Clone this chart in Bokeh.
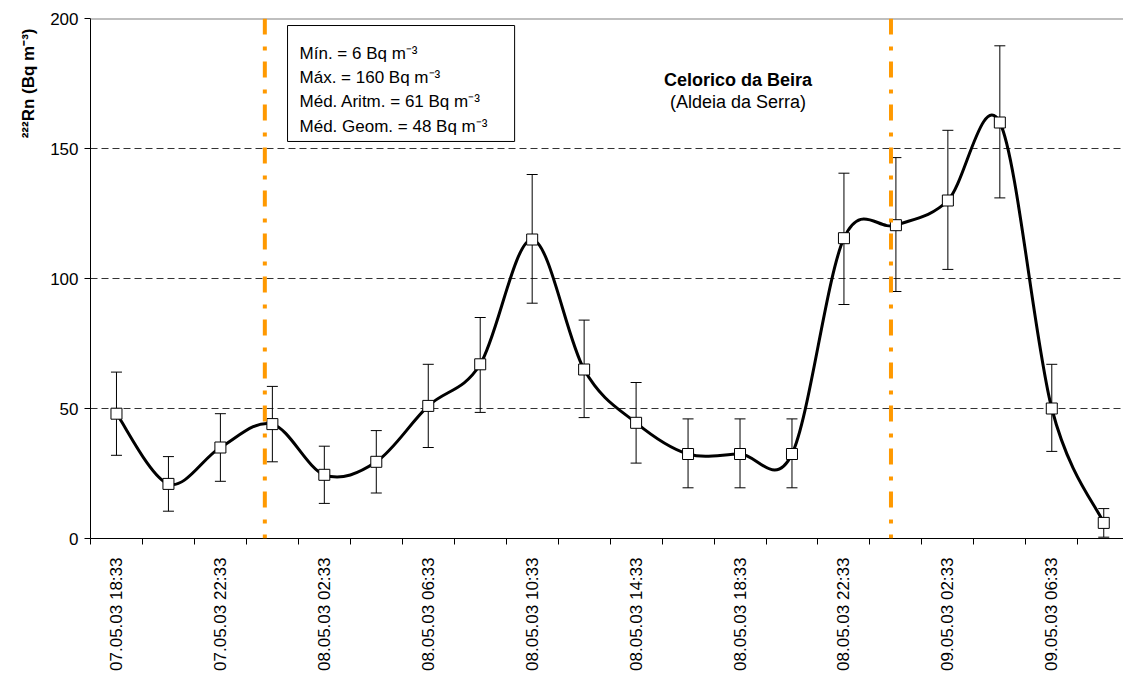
import math
from bokeh.plotting import figure
from bokeh.models import (Range1d, FixedTicker, ColumnDataSource, Whisker, TeeHead,
                          Label, BoxAnnotation, Span, Title)
from bokeh.embed import file_html
from bokeh.resources import INLINE

# ---------------- data ----------------
times = ["07.05.03 18:33", "07.05.03 20:33", "07.05.03 22:33", "08.05.03 00:33",
         "08.05.03 02:33", "08.05.03 04:33", "08.05.03 06:33", "08.05.03 08:33",
         "08.05.03 10:33", "08.05.03 12:33", "08.05.03 14:33", "08.05.03 16:33",
         "08.05.03 18:33", "08.05.03 20:33", "08.05.03 22:33", "09.05.03 00:33",
         "09.05.03 02:33", "09.05.03 04:33", "09.05.03 06:33", "09.05.03 08:33"]
radon = [48, 21, 35, 44, 24.5, 29.5, 51, 67, 115, 65, 44.5, 32.5, 32.5, 32.5,
         115.5, 120.5, 130, 160, 50, 6]
err_upper = [64, 31.5, 48, 58.5, 35.5, 41.5, 67, 85, 140, 84, 60, 46, 46, 46,
             140.5, 146.5, 157, 189.5, 67, 11.5]
err_lower = [32, 10.5, 22, 29.5, 13.5, 17.5, 35, 48.5, 90.5, 46.5, 29, 19.5, 19.5, 19.5,
             90, 95, 103.5, 131, 33.5, 0.5]
marker_lines = [2.855, 14.905]   # orange dash-dot separators (category units)
y_ticks = [0, 50, 100, 150, 200]
stats_lines = ["Mín. = 6 Bq m⁻³", "Máx. = 160 Bq m⁻³",
               "Méd. Aritm. = 61 Bq m⁻³", "Méd. Geom. = 48 Bq m⁻³"]

FONT = "Liberation Sans"
xs = list(range(len(times)))

p = figure(width=1123, height=673, output_backend="svg", toolbar_location=None,
           x_range=Range1d(-0.5, 19.38), y_range=Range1d(0, 200),
           min_border_left=90, min_border_right=0, min_border_top=18,
           min_border_bottom=135)
p.background_fill_color = "white"
p.border_fill_color = "white"
p.outline_line_color = None

# y axis label as a left-side title aligned to the top
p.add_layout(Title(text="²²²Rn (Bq m⁻³)", align="right", text_font=FONT,
                   text_font_size="17px", text_font_style="bold", text_color="black",
                   offset=10, standoff=19), "left")

# axes
p.yaxis.ticker = FixedTicker(ticks=y_ticks)
p.yaxis.major_label_text_font = FONT
p.yaxis.major_label_text_font_size = "17px"
p.yaxis.major_label_text_color = "black"
p.yaxis.major_tick_out = 6
p.yaxis.major_tick_in = 0
p.yaxis.minor_tick_out = 0
p.yaxis.minor_tick_in = 0
p.yaxis.axis_line_color = "black"
p.yaxis.major_tick_line_color = "black"
p.yaxis.major_label_standoff = 6

p.xaxis.ticker = FixedTicker(ticks=xs[::2], minor_ticks=[i - 0.5 for i in range(len(times) + 1)])
p.xaxis.major_label_overrides = {i: times[i] for i in xs[::2]}
p.xaxis.major_label_orientation = math.pi / 2
p.xaxis.major_label_text_font = FONT
p.xaxis.major_label_text_font_size = "17px"
p.xaxis.major_label_text_color = "black"
p.xaxis.major_tick_out = 0
p.xaxis.major_tick_in = 0
p.xaxis.minor_tick_out = 6
p.xaxis.minor_tick_in = 0
p.xaxis.minor_tick_line_color = "black"
p.xaxis.axis_line_color = "black"
p.xaxis.major_label_standoff = 13

p.xgrid.grid_line_color = None
p.ygrid.ticker = FixedTicker(ticks=[50, 100, 150])
p.ygrid.grid_line_color = "#333333"
p.ygrid.grid_line_dash = "7 4"
p.ygrid.grid_line_width = 1

# top border line at 200
p.add_layout(Span(location=200, dimension="width", line_color="#808080", line_width=2))

# orange separators
for xv in marker_lines:
    p.add_layout(Span(location=xv, dimension="height", line_color="#FF9900",
                      line_width=4, line_dash="16 12 4 11"))

# error bars
src = ColumnDataSource(dict(x=xs, y=radon, up=err_upper, lo=err_lower))
p.add_layout(Whisker(source=src, base="x", upper="up", lower="lo",
                     line_color="black", line_width=1,
                     upper_head=TeeHead(size=11, line_color="black", line_width=1),
                     lower_head=TeeHead(size=11, line_color="black", line_width=1)))

# smoothed curve via bezier segments (Catmull-Rom style control points)
n = len(xs)
x0, y0, x1, y1, cx0, cy0, cx1, cy1 = [], [], [], [], [], [], [], []
for i in range(n - 1):
    im1 = max(i - 1, 0)
    ip2 = min(i + 2, n - 1)
    x0.append(xs[i]); y0.append(radon[i])
    x1.append(xs[i + 1]); y1.append(radon[i + 1])
    cx0.append(xs[i] + (xs[i + 1] - xs[im1]) / 6)
    cy0.append(radon[i] + (radon[i + 1] - radon[im1]) / 6)
    cx1.append(xs[i + 1] - (xs[ip2] - xs[i]) / 6)
    cy1.append(radon[i + 1] - (radon[ip2] - radon[i]) / 6)
p.bezier(x0=x0, y0=y0, x1=x1, y1=y1, cx0=cx0, cy0=cy0, cx1=cx1, cy1=cy1,
         line_color="black", line_width=3)

p.scatter(xs, radon, marker="square", size=11, fill_color="white",
          line_color="black", line_width=1)

# stats box
p.add_layout(BoxAnnotation(left=3.292, right=7.662, bottom=152.7, top=197.3,
                           fill_color="white", fill_alpha=1, line_color="black",
                           line_alpha=1, line_width=1, level="overlay"))
for k, t in enumerate(stats_lines):
    p.add_layout(Label(x=3.523, y=186.65 - k * 9.38, text=t, text_font=FONT,
                       text_font_size="17px", text_color="black",
                       text_baseline="alphabetic", text_align="left", level="overlay"))

# site title
p.add_layout(Label(x=11.96, y=176.4, text="Celorico da Beira", text_font=FONT,
                   text_font_size="18px", text_font_style="bold", text_align="center",
                   text_color="black", text_baseline="alphabetic"))
p.add_layout(Label(x=11.96, y=167.8, text="(Aldeia da Serra)", text_font=FONT,
                   text_font_size="18px", text_align="center", text_color="black",
                   text_baseline="alphabetic"))

open("out.html", "w").write(file_html(p, INLINE))
